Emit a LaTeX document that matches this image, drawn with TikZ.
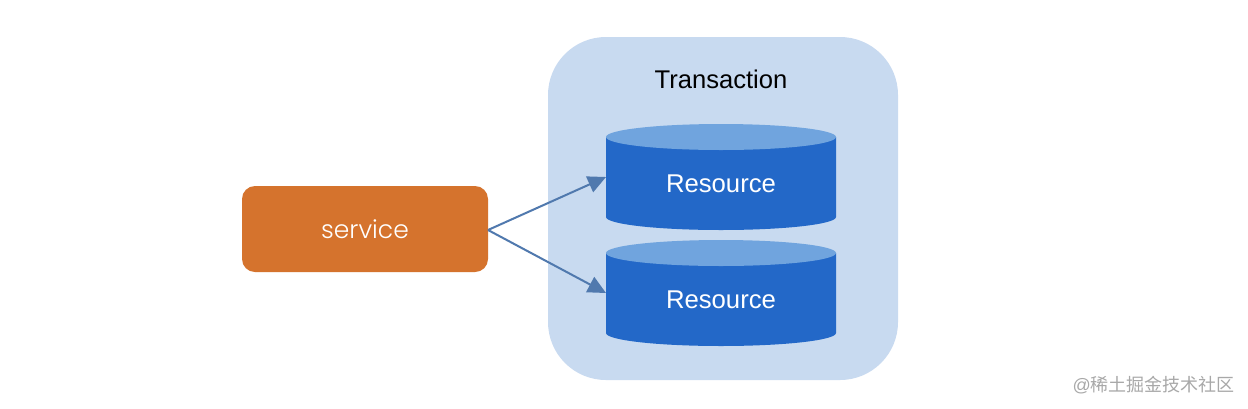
\documentclass[tikz,border=0pt]{standalone}
\usepackage{fontspec}
\setmainfont{Liberation Sans}
\newfontfamily\svcfont{Poppins Light}
\newfontfamily\cjk{Noto Sans CJK SC}
\usetikzlibrary{arrows.meta}
\definecolor{panelc}{HTML}{C8DAF0}
\definecolor{orangec}{HTML}{D5732D}
\definecolor{bluec}{HTML}{2368C8}
\definecolor{topc}{HTML}{70A4DE}
\definecolor{linkc}{HTML}{5079AE}
\definecolor{markc}{HTML}{A8A8A8}
\tikzset{
  x=1pt,y=-1pt,
  panel/.style={fill=panelc,draw=none,rounded corners=58pt},
  svc/.style={fill=orangec,draw=none,rounded corners=13pt},
  lbl/.style={font=\fontsize{25.7}{28}\selectfont,text=white,inner sep=0pt},
  conn/.style={draw=linkc,line width=2pt,-{Stealth[length=18pt,width=17pt,inset=0pt]}},
}
\newcommand{\drum}[3]{%
  \fill[bluec] (606,#1+13) -- (606,#1+93) arc[x radius=115,y radius=13,start angle=180,end angle=0] -- (836,#1+13) -- cycle;
  \fill[topc] (721,#1+13) ellipse[x radius=115,y radius=13];
  \coordinate (#2) at (606,#1+53);
  \node[lbl] (#3) at (721,#1+59.5) {Resource};
}
\begin{document}
\begin{tikzpicture}
\useasboundingbox (0,0) rectangle (1248,408);
\fill[white] (0,0) rectangle (1248,408);
\fill[panel] (548,37) rectangle (898,380);
\node[inner sep=0pt,font=\fontsize{25.6}{28}\selectfont,text=black] (title) at (721,79.5) {Transaction};
\drum{124}{ra}{la}
\drum{240}{rb}{lb}
\fill[svc] (242,186) rectangle (488,272);
\node[inner sep=0pt,font=\svcfont\fontsize{25}{28}\selectfont,text=white] (service) at (365,229) {service};
\coordinate (src) at (488,230);
\draw[conn] (src) -- (ra);
\draw[conn] (src) -- (rb);
\node[inner sep=0pt,font=\fontsize{18}{20}\selectfont,text=markc,anchor=east] (mark) at (1235,385) {@\cjk 稀土掘金技术社区};
\end{tikzpicture}
\end{document}
